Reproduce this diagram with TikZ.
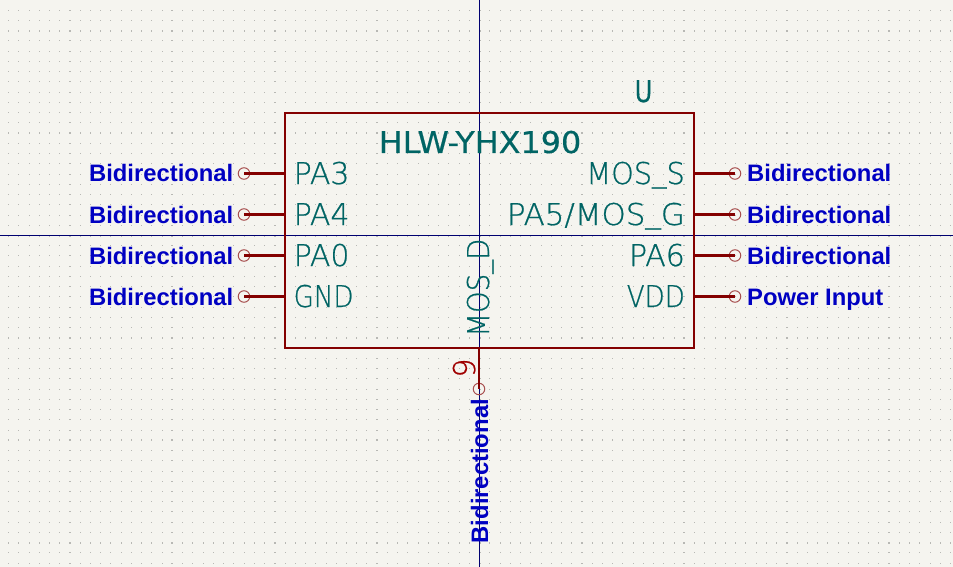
\documentclass[tikz,border=0pt]{standalone}
\usepackage{fontspec}
\setmainfont{Liberation Sans}
\newfontfamily\pinfont[FakeBold=0.7]{DejaVu Sans ExtraLight}
\newfontfamily\titlefont[FakeBold=0.5]{DejaVu Sans}
\newcommand{\lowbar}{\raisebox{2.5pt}{\_}}
\definecolor{sheetbg}{HTML}{F5F4EF}
\definecolor{griddot}{HTML}{B8B8B4}
\definecolor{crossline}{HTML}{000070}
\definecolor{bodyred}{HTML}{840000}
\definecolor{endred}{HTML}{A85050}
\definecolor{numred}{HTML}{A00000}
\definecolor{pinteal}{HTML}{006464}
\definecolor{typeblue}{HTML}{0000C2}
\tikzset{
  pinname/.style={inner sep=0, text=pinteal, font=\pinfont\fontsize{30}{30}\selectfont},
  pintype/.style={inner sep=0, text=typeblue, font=\bfseries\fontsize{23.8}{24}\selectfont},
  pinline/.style={draw=bodyred, line width=2.3pt},
  pinend/.style={circle, draw=endred, line width=1pt, inner sep=0, minimum size=11.5pt},
}
\begin{document}
\begin{tikzpicture}[x=1pt,y=-1pt]
  \useasboundingbox[fill=sheetbg] (0,0) rectangle (953,567);
  % grid
  \foreach \i in {-6,...,86} {
    \foreach \j in {-2,...,52} {
      \pgfmathsetmacro{\dw}{mod(\i+100,10)==0 ? 1.0 : 0.5}
      \pgfmathsetmacro{\dh}{mod(\j+100,10)==0 ? 1.0 : 0.5}
      \fill[griddot] ({70+10.24*\i-\dw},{30.7+10.24*\j-\dh}) rectangle ({70+10.24*\i+\dw},{30.7+10.24*\j+\dh});
    }
  }
  % crosshair
  \coordinate (crosstop) at (479.5,0);
  \coordinate (crossbot) at (479.5,567);
  \coordinate (crossleft) at (0,235.5);
  \coordinate (crossright) at (953,235.5);
  \draw[crossline, line width=1pt] (crosstop) -- (crossbot);
  \draw[crossline, line width=1pt] (crossleft) -- (crossright);
  % symbol body
  \node[draw=bodyred, line width=2.3pt, outer sep=0, minimum width=409pt, minimum height=235pt, inner sep=0] (body) at (489.5,230.5) {};
  \node[inner sep=0, anchor=base, xscale=0.8, text=pinteal, font=\titlefont\fontsize{30}{30}\selectfont] (refname) at (643.5,102) {U};
  \node[inner sep=0, anchor=base, xscale=1.06, text=pinteal, font=\titlefont\fontsize{30}{30}\selectfont] (partname) at (480,153) {HLW-YHX190};
  % left pins
  \coordinate (pathree) at (285,173.5);
  \coordinate (pafour) at (285,214.5);
  \coordinate (pazero) at (285,255.5);
  \coordinate (gnd) at (285,296.5);
  \node[pinend] (pathreeend) at (244,173.5) {};
  \node[pinend] (pafourend) at (244,214.5) {};
  \node[pinend] (pazeroend) at (244,255.5) {};
  \node[pinend] (gndend) at (244,296.5) {};
  \draw[pinline] (pathree) -- (pathreeend.center);
  \draw[pinline] (pafour) -- (pafourend.center);
  \draw[pinline] (pazero) -- (pazeroend.center);
  \draw[pinline] (gnd) -- (gndend.center);
  \node[pinname, anchor=base west] (pathreename) at (293.5,184) {PA3};
  \node[pinname, anchor=base west] (pafourname) at (293.5,225) {PA4};
  \node[pinname, anchor=base west] (pazeroname) at (293.5,266) {PA0};
  \node[pinname, anchor=base west, xscale=0.87] (gndname) at (293.5,307) {GND};
  \node[pintype, anchor=base east] (pathreetype) at (233.5,182) {Bidirectional};
  \node[pintype, anchor=base east] (pafourtype) at (233.5,223) {Bidirectional};
  \node[pintype, anchor=base east] (pazerotype) at (233.5,264) {Bidirectional};
  \node[pintype, anchor=base east] (gndtype) at (233.5,305) {Bidirectional};
  % right pins
  \coordinate (moss) at (694,173.5);
  \coordinate (mosg) at (694,214.5);
  \coordinate (pasix) at (694,255.5);
  \coordinate (vdd) at (694,296.5);
  \node[pinend] (mossend) at (735,173.5) {};
  \node[pinend] (mosgend) at (735,214.5) {};
  \node[pinend] (pasixend) at (735,255.5) {};
  \node[pinend] (vddend) at (735,296.5) {};
  \draw[pinline] (moss) -- (mossend.center);
  \draw[pinline] (mosg) -- (mosgend.center);
  \draw[pinline] (pasix) -- (pasixend.center);
  \draw[pinline] (vdd) -- (vddend.center);
  \node[pinname, anchor=base east, xscale=0.96] (mossname) at (685,184) {MOS\lowbar S};
  \node[pinname, anchor=base east, xscale=1.03] (mosgname) at (685,225) {PA5/MOS\lowbar G};
  \node[pinname, anchor=base east] (pasixname) at (685,266) {PA6};
  \node[pinname, anchor=base east, xscale=0.87] (vddname) at (685,307) {VDD};
  \node[pintype, anchor=base west] (mosstype) at (747,182) {Bidirectional};
  \node[pintype, anchor=base west] (mosgtype) at (747,223) {Bidirectional};
  \node[pintype, anchor=base west] (pasixtype) at (747,264) {Bidirectional};
  \node[pintype, anchor=base west] (vddtype) at (747,305) {Power Input};
  % bottom pin
  \coordinate (mosd) at (479,348);
  \node[pinend] (mosdend) at (479,389) {};
  \draw[pinline] (mosd) -- (mosdend.center);
  \node[pinname, anchor=base west, rotate=90, xscale=0.92] (mosdname) at (489,337) {MOS\lowbar D};
  \node[pintype, anchor=base west, rotate=90] (mosdtype) at (488,543.5) {Bidirectional};
  \node[inner sep=0, anchor=base, rotate=90, text=numred, font=\pinfont\fontsize{30}{30}\selectfont] (mosdnum) at (475,368) {9};
\end{tikzpicture}
\end{document}
